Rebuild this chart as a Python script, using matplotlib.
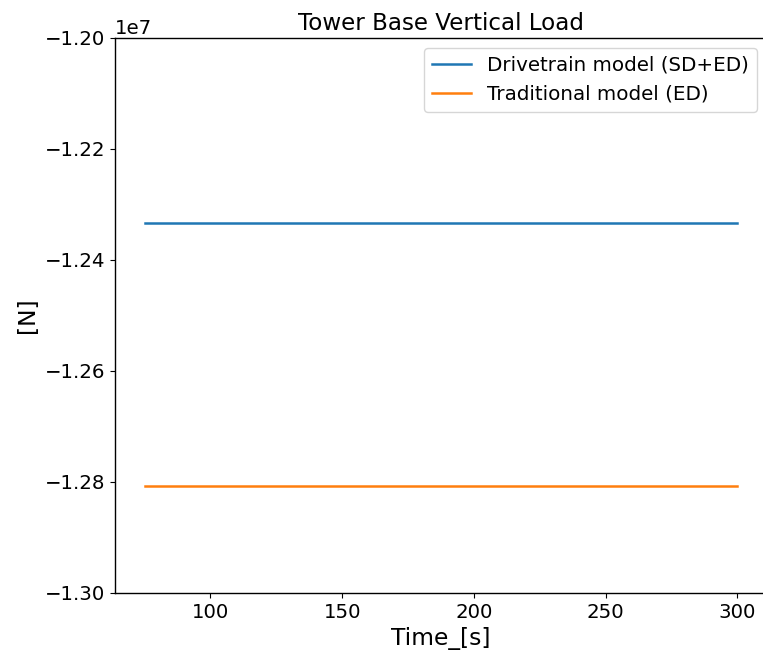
import matplotlib
matplotlib.use("Agg")
import matplotlib.pyplot as plt

# data
time_s = [75, 100, 150, 200, 250, 300]
load_sd_ed = [-1.2334e7, -1.2334e7, -1.2334e7, -1.2334e7, -1.2334e7, -1.2334e7]
load_ed = [-1.2808e7, -1.2808e7, -1.2808e7, -1.2808e7, -1.2808e7, -1.2808e7]

fig = plt.figure(figsize=(7.63, 6.53), dpi=100)
W, H = 763, 653
# the reference is cropped on the right, so the right spine falls outside
ax = fig.add_axes([115 / W, (H - 593) / H, (767 - 115) / W, (593 - 38) / H])

ax.plot(time_s, load_sd_ed, color="#1f77b4", lw=1.8, label="Drivetrain model (SD+ED)")
ax.plot(time_s, load_ed, color="#ff7f0e", lw=1.8, label="Traditional model (ED)")

ax.set_ylim(-1.30e7, -1.20e7)
ax.set_title("Tower Base Vertical Load", fontsize=16.6)
ax.set_xlabel("Time_[s]", fontsize=16.8)
ax.set_ylabel("[N]", fontsize=16.8)
ax.tick_params(labelsize=14.2)
ax.yaxis.get_offset_text().set_fontsize(14.2)
ax.spines["right"].set_visible(False)
for s in ("left", "bottom", "top"):
    ax.spines[s].set_linewidth(1.0)
ax.legend(loc="upper right", fontsize=14.3)

fig.savefig("out.png", dpi=100)
